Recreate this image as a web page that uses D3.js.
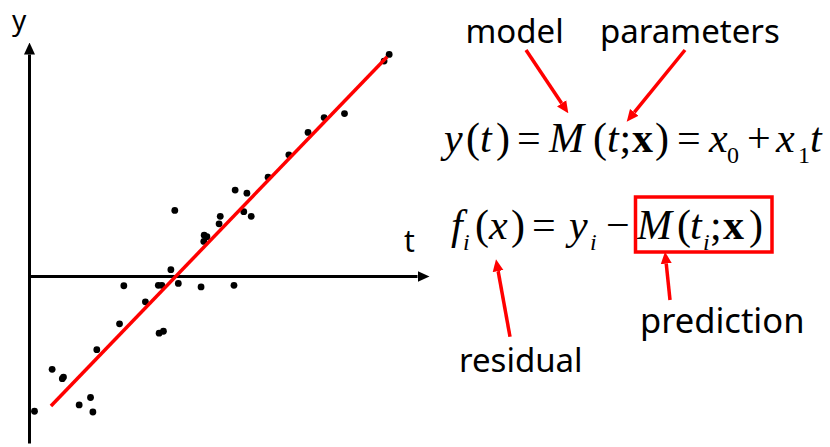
<!DOCTYPE html>
<html>
<head>
<meta charset="utf-8">
<script src="https://cdn.jsdelivr.net/npm/d3@7"></script>
<style>
  html, body { margin: 0; padding: 0; background: #fff; }
  svg { display: block; }
  .lbl { font-family: "Noto Sans", sans-serif; fill: #000; }
  .math { font-family: "Liberation Serif", "Times New Roman", serif; fill: #000; }
</style>
</head>
<body>
<svg id="chart" width="830" height="447"></svg>
<script>
// Observations (t, y)
const obsT = [91.9, 90.6, 80.5, 75.3, 71.2, 66.3, 61.0, 52.6, 55.6, 37.2, 54.8, 56.7,
              48.8, 48.5, 44.7, 45.4, 44.6, 36.2, 38.1, 24.2, 33.0, 33.9, 43.9, 52.3,
              29.7, 23.1, 33.2, 34.3, 17.3, 5.9, 8.5, 8.8, 15.7, 12.8, 16.3, 1.4];
const obsY = [56.5, 54.8, 41.4, 40.4, 36.6, 30.9, 25.2, 21.9, 21.1, 16.7, 16.4, 15.2,
              15.2, 13.3, 10.4, 10.0, 8.8, 1.6, -1.9, -2.5, -2.4, -2.4, -2.8, -2.4,
              -6.6, -12.2, -14.6, -14.1, -18.8, -23.8, -26.2, -25.8, -31.0, -32.9, -34.7, -34.5];

// Straight-line model y(t) = x0 + x1 t, drawn over this t range
const fitParams = [-39.0, 1.0385];
const fitRange = [5.6, 91.4];

// Axis extents in data units
const tExtent = [0, 99];
const yExtent = [-42.6, 56.6];

const svg = d3.select("#chart");

const x = d3.scaleLinear().domain(tExtent).range([29, 417]);
const y = d3.scaleLinear().domain(yExtent).range([443, 54]);

// Arrowhead markers
const defs = svg.append("defs");
defs.append("marker")
  .attr("id", "axisHead")
  .attr("markerUnits", "userSpaceOnUse")
  .attr("viewBox", "0 0 12 12")
  .attr("markerWidth", 12).attr("markerHeight", 12)
  .attr("refX", 0).attr("refY", 6)
  .attr("orient", "auto")
  .append("path").attr("d", "M0,0.5L12,6L0,11.5Z").attr("fill", "#000");
defs.append("marker")
  .attr("id", "redHead")
  .attr("markerUnits", "userSpaceOnUse")
  .attr("viewBox", "0 0 12 12")
  .attr("markerWidth", 12).attr("markerHeight", 12)
  .attr("refX", 0).attr("refY", 6)
  .attr("orient", "auto")
  .append("path").attr("d", "M0,0.5L12,6L0,11.5Z").attr("fill", "#ff0000");

// Axes through the origin, no ticks
const xAxis = svg.append("g")
  .attr("transform", `translate(0,${y(0)})`)
  .call(d3.axisBottom(x).tickValues([]).tickSizeOuter(0));
const yAxis = svg.append("g")
  .attr("transform", `translate(${x(0)},0)`)
  .call(d3.axisLeft(y).tickValues([]).tickSizeOuter(0));
[xAxis, yAxis].forEach(g => g.select(".domain")
  .attr("stroke", "#000").attr("stroke-width", 3)
  .attr("marker-end", "url(#axisHead)"));

svg.append("text").attr("class", "lbl").attr("x", 12).attr("y", 30)
  .attr("font-size", 28).text("y");
svg.append("text").attr("class", "lbl").attr("x", 404).attr("y", 252)
  .attr("font-size", 30).text("t");

// Data points
svg.append("g").selectAll("circle")
  .data(d3.zip(obsT, obsY))
  .join("circle")
  .attr("cx", d => x(d[0]))
  .attr("cy", d => y(d[1]))
  .attr("r", 3.4)
  .attr("fill", "#000");

// Fitted line
const model = t => fitParams[0] + fitParams[1] * t;
svg.append("path")
  .datum(fitRange)
  .attr("d", d3.line().x(t => x(t)).y(t => y(model(t))))
  .attr("fill", "none")
  .attr("stroke", "#ff0000")
  .attr("stroke-width", 3.5);

// Equations, laid out token by token
// [text, x, style, subscript?]
const eq1 = [
  ["y", 444, "i"], ["(", 466, "r"], ["t", 480, "i"], [")", 496, "r"],
  ["=", 517, "r"], ["M", 549, "i"], ["(", 593, "r"], ["t", 607, "i"],
  [";", 619.5, "r"], ["x", 632, "b"], [")", 655, "r"], ["=", 677, "r"],
  ["x", 709, "i"], ["0", 727, "r", true], ["+", 747, "r"], ["x", 776, "i"],
  ["1", 798, "r", true], ["t", 810, "i"]
];
const eq2 = [
  ["f", 451, "i"], ["i", 463, "i", true], ["(", 475, "r"], ["x", 489, "i"],
  [")", 511, "r"], ["=", 532, "r"], ["y", 569, "i"], ["i", 590, "i", true],
  ["\u2212", 606, "r"], ["M", 637, "i"], ["(", 677, "r"], ["t", 690, "i"],
  ["i", 703, "i", true], [";", 710, "r"], ["x", 723, "b"], [")", 749, "r"]
];

function drawEquation(tokens, baseline) {
  svg.append("g").selectAll("text")
    .data(tokens)
    .join("text")
    .attr("class", "math")
    .attr("x", d => d[1])
    .attr("y", d => d[3] ? baseline + 11 : baseline)
    .attr("font-size", d => d[3] ? 24 : 42)
    .attr("font-style", d => d[2] === "i" ? "italic" : "normal")
    .attr("font-weight", d => d[2] === "b" ? "bold" : "normal")
    .text(d => d[0]);
}
drawEquation(eq1, 152);
drawEquation(eq2, 238.5);

// Box round the prediction term
svg.append("rect")
  .attr("x", 635.5).attr("y", 197).attr("width", 136.5).attr("height", 55)
  .attr("fill", "none").attr("stroke", "#ff0000").attr("stroke-width", 3.5);

// Annotation labels: [text, x, baseline, size]
const notes = [
  ["model", 465.5, 43, 33], ["parameters", 600, 43, 33],
  ["prediction", 640, 333, 34.5], ["residual", 459, 372, 33]
];
svg.append("g").selectAll("text")
  .data(notes)
  .join("text")
  .attr("class", "lbl")
  .attr("font-size", d => d[3])
  .attr("x", d => d[1]).attr("y", d => d[2])
  .text(d => d[0]);

// Annotation arrows: [from, to]
const pointers = [
  [[526, 50], [568.3, 113.3]],
  [[685, 50], [626.7, 121.7]],
  [[510, 336.7], [496, 259.3]],
  [[670, 300], [665, 251.7]]
];
const headLen = 12;
svg.append("g").selectAll("line")
  .data(pointers)
  .join("line")
  .each(function([a, b]) {
    const dx = b[0] - a[0], dy = b[1] - a[1];
    const len = Math.hypot(dx, dy);
    d3.select(this)
      .attr("x1", a[0]).attr("y1", a[1])
      .attr("x2", b[0] - dx / len * headLen)
      .attr("y2", b[1] - dy / len * headLen);
  })
  .attr("stroke", "#ff0000")
  .attr("stroke-width", 3.5)
  .attr("marker-end", "url(#redHead)");
</script>
</body>
</html>
